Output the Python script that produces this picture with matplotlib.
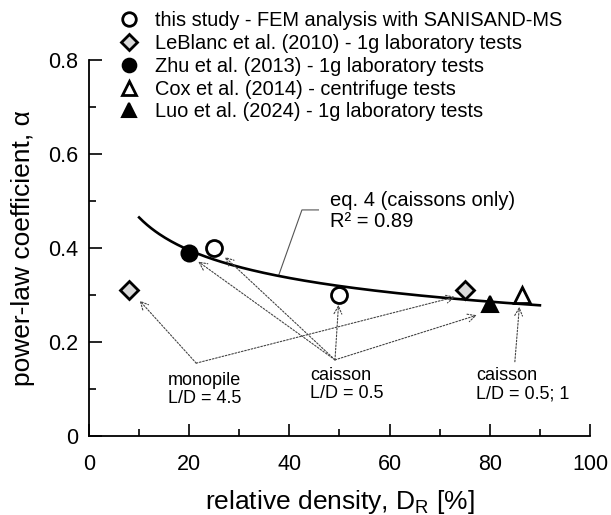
import numpy as np
import matplotlib
matplotlib.use("Agg")
import matplotlib.pyplot as plt

plt.rcParams['font.family'] = ['Liberation Sans', 'DejaVu Sans']
plt.rcParams['mathtext.fontset'] = 'custom'
plt.rcParams['mathtext.rm'] = 'Liberation Sans'

# ---- дані ----
this_dr = [25, 50]
this_a = [0.40, 0.30]
leblanc_dr = [8, 75]
leblanc_a = [0.31, 0.31]
zhu_dr = [20]
zhu_a = [0.39]
cox_dr = [86.5]
cox_a = [0.30]
luo_dr = [80]
luo_a = [0.28]

# eq. 4: alpha = A * DR^B (caissons only)
EQ4_A = 0.797
EQ4_B = -0.234
EQ4_RANGE = (10, 90)

LABELS = ["this study - FEM analysis with SANISAND-MS",
          "LeBlanc et al. (2010) - 1g laboratory tests",
          "Zhu et al. (2013) - 1g laboratory tests",
          "Cox et al. (2014) - centrifuge tests",
          "Luo et al. (2024) - 1g laboratory tests"]

fig = plt.figure(figsize=(6.11, 5.15), dpi=100)
ax = fig.add_axes([89 / 611, 1 - 436 / 515, 501 / 611, 376 / 515])

# ---- крива ----
dr = np.linspace(EQ4_RANGE[0], EQ4_RANGE[1], 200)
ax.plot(dr, EQ4_A * dr ** EQ4_B, color='black', lw=1.9, zorder=2)

# ---- точки ----
ms = 11.5
h1, = ax.plot(this_dr, this_a, 'o', ms=ms, mfc='white', mec='black', mew=2, zorder=3)
h2, = ax.plot(leblanc_dr, leblanc_a, 'D', ms=9.5, mfc='#d9d9d9', mec='black', mew=2, zorder=3)
h3, = ax.plot(zhu_dr, zhu_a, 'o', ms=ms, mfc='black', mec='black', mew=1.5, zorder=3)
h4, = ax.plot(cox_dr, cox_a, '^', ms=ms, mfc='white', mec='black', mew=2, zorder=3)
h5, = ax.plot(luo_dr, luo_a, '^', ms=ms, mfc='black', mec='black', mew=1.5, zorder=3)

leg = ax.legend([h1, h2, h3, h4, h5], LABELS, loc='upper left',
                bbox_to_anchor=(0.06, 1.13), frameon=False, fontsize=14.4,
                handlelength=1.0, handletextpad=0.8, labelspacing=0.19,
                markerscale=0.85, borderpad=0, borderaxespad=0)

# ---- стрілки ----
arrow_kw = dict(arrowstyle='->', color='#444444', lw=0.8, linestyle=(0, (1.5, 1.5)),
                shrinkA=0, shrinkB=0, mutation_scale=14)
arrows = [((21.4, 0.155), (10.1, 0.288)),
          ((21.4, 0.155), (73.1, 0.296)),
          ((49.1, 0.162), (21.8, 0.371)),
          ((49.1, 0.162), (27.1, 0.381)),
          ((49.1, 0.162), (49.8, 0.279)),
          ((49.1, 0.162), (77.4, 0.257)),
          ((85.0, 0.158), (85.9, 0.275))]
for start, end in arrows:
    ax.annotate('', xy=end, xytext=start, arrowprops=arrow_kw)

note_kw = dict(fontsize=13, va='top', ha='left', linespacing=1.1)
ax.text(15.8, 0.137, 'monopile\nL/D = 4.5', **note_kw)
ax.text(44.1, 0.147, 'caisson\nL/D = 0.5', **note_kw)
ax.text(77.2, 0.147, 'caisson\nL/D = 0.5; 1', **note_kw)

# підпис рівняння
ax.plot([37.9, 42.5, 45.8], [0.343, 0.481, 0.481], color='#555555', lw=0.8, zorder=1)
ax.text(48.1, 0.522, 'eq. 4 (caissons only)\nR² = 0.89', fontsize=14.5, va='top', ha='left',
        linespacing=1.15)

# ---- осі ----
ax.set_xlim(0, 100)
ax.set_ylim(0, 0.8)
ax.set_xticks(np.arange(0, 101, 20))
ax.set_xticks(np.arange(0, 101, 10), minor=True)
ax.set_yticks([0, 0.2, 0.4, 0.6, 0.8])
ax.set_yticklabels(['0', '0.2', '0.4', '0.6', '0.8'])
ax.set_yticks(np.arange(0, 0.81, 0.1), minor=True)
ax.tick_params(which='both', direction='in', width=1.2, colors='black', labelsize=15.5)
ax.tick_params(which='major', length=9)
ax.tick_params(which='minor', length=5)
ax.tick_params(axis='x', pad=13)
ax.tick_params(axis='y', pad=8)
for s in ['top', 'right']:
    ax.spines[s].set_visible(False)
for s in ['left', 'bottom']:
    ax.spines[s].set_linewidth(1.3)

ax.set_xlabel('relative density, D$_\\mathregular{R}$ [%]', fontsize=19, labelpad=9)
ax.set_ylabel('power-law coefficient, α', fontsize=19, labelpad=9)

fig.savefig('out.png', dpi=100)
